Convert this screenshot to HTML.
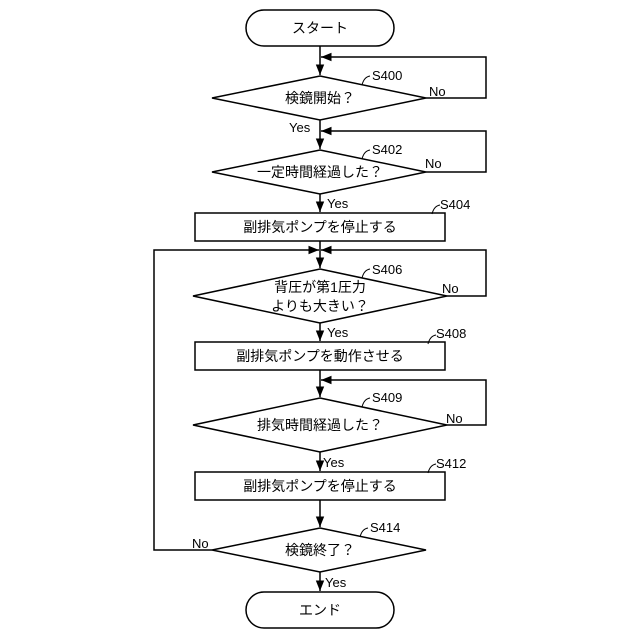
<!DOCTYPE html>
<html><head><meta charset="utf-8"><style>body{margin:0;background:#fff}svg{display:block}text{font-family:"Liberation Sans","Noto Sans CJK JP",sans-serif;fill:#000}</style></head><body>
<svg width="640" height="640" viewBox="0 0 640 640">
<defs><marker id="a" viewBox="0 0 10 10" refX="10" refY="5" markerWidth="7" markerHeight="7" orient="auto"><path d="M0,1L10,5L0,9z" fill="#000"/></marker></defs>
<g stroke="#000" stroke-width="1.5" fill="none">
<rect x="246" y="10" width="148" height="36" rx="18" fill="#fff"/>
<rect x="246" y="592" width="148" height="36" rx="18" fill="#fff"/>
<polygon points="320,76 426,98 320,120 212,98"/>
<polygon points="320,150 426,172 320,194 212,172"/>
<rect x="195" y="213" width="250" height="28"/>
<polygon points="320,269 447,296 320,323 193,296"/>
<rect x="195" y="342" width="250" height="28"/>
<polygon points="320,398 447,425 320,452 193,425"/>
<rect x="195" y="472" width="250" height="28"/>
<polygon points="320,528 426,550 320,572 212,550"/>
<line x1="320" y1="46" x2="320" y2="75" marker-end="url(#a)"/>
<polyline points="426,98 486,98 486,57 321,57" marker-end="url(#a)"/>
<line x1="320" y1="120" x2="320" y2="149" marker-end="url(#a)"/>
<polyline points="426,172 486,172 486,131 321,131" marker-end="url(#a)"/>
<line x1="320" y1="194" x2="320" y2="212" marker-end="url(#a)"/>
<line x1="320" y1="241" x2="320" y2="268" marker-end="url(#a)"/>
<polyline points="447,296 486,296 486,250 321,250" marker-end="url(#a)"/>
<polyline points="212,550 154,550 154,250 319,250" marker-end="url(#a)"/>
<line x1="320" y1="323" x2="320" y2="341" marker-end="url(#a)"/>
<line x1="320" y1="370" x2="320" y2="397" marker-end="url(#a)"/>
<polyline points="447,425 486,425 486,380 321,380" marker-end="url(#a)"/>
<line x1="320" y1="452" x2="320" y2="471" marker-end="url(#a)"/>
<line x1="320" y1="500" x2="320" y2="527" marker-end="url(#a)"/>
<line x1="320" y1="572" x2="320" y2="591" marker-end="url(#a)"/>
<g stroke-width="1">
<path d="M362,85 q2,-8 8,-9"/><path d="M362,159 q2,-8 8,-9"/><path d="M432,214 q2,-8 8,-9"/>
<path d="M362,278 q2,-8 8,-9"/><path d="M428,344 q2,-8 8,-9"/><path d="M362,407 q2,-8 8,-9"/>
<path d="M428,473 q2,-8 8,-9"/><path d="M360,537 q2,-8 8,-9"/>
</g></g>
<g font-size="14" text-anchor="middle">
<text x="320" y="33">スタート</text>
<text x="320" y="103">検鏡開始？</text>
<text x="320" y="177">一定時間経過した？</text>
<text x="320" y="232">副排気ポンプを停止する</text>
<text x="320" y="292">背圧が第1圧力</text>
<text x="320" y="311">よりも大きい？</text>
<text x="320" y="361">副排気ポンプを動作させる</text>
<text x="320" y="430">排気時間経過した？</text>
<text x="320" y="491">副排気ポンプを停止する</text>
<text x="320" y="555">検鏡終了？</text>
<text x="320" y="615">エンド</text>
</g>
<g font-size="13">
<text x="372" y="80">S400</text><text x="372" y="154">S402</text><text x="440" y="209">S404</text>
<text x="372" y="274">S406</text><text x="436" y="338">S408</text><text x="372" y="402">S409</text>
<text x="436" y="468">S412</text><text x="370" y="532">S414</text>
<text x="429" y="96">No</text><text x="425" y="168">No</text><text x="442" y="293">No</text>
<text x="446" y="423">No</text><text x="192" y="548">No</text>
<text x="289" y="132">Yes</text><text x="327" y="208">Yes</text><text x="327" y="337">Yes</text>
<text x="323" y="467">Yes</text><text x="325" y="587">Yes</text>
</g>
</svg></body></html>
